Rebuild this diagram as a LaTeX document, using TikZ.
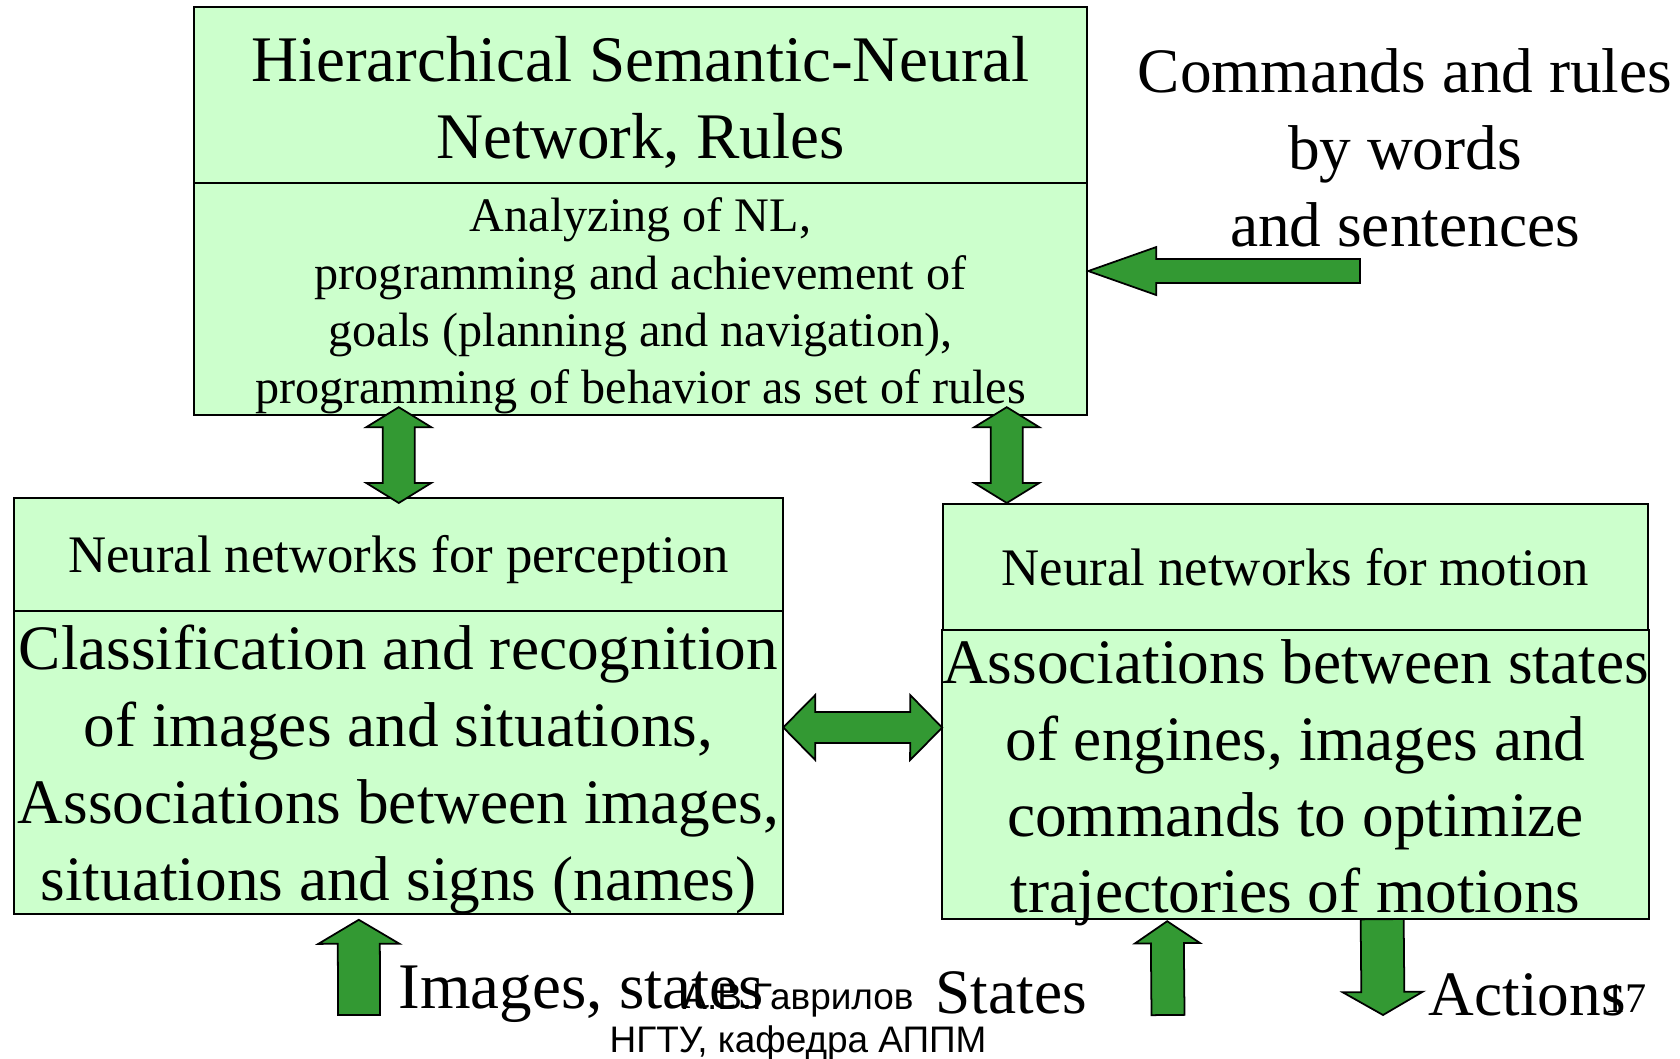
\documentclass[tikz,border=0pt]{standalone}
\usepackage{fontspec}
\setmainfont{Liberation Serif}
\newfontfamily\footfont{Liberation Sans}
\usetikzlibrary{calc,positioning}
\definecolor{boxgreen}{HTML}{CCFFCC}
\definecolor{arrowgreen}{HTML}{339933}
\tikzset{
    block/.style={draw, fill=boxgreen, line width=0.6pt, inner sep=0pt, outer sep=0pt, align=center},
    blockhead/.style={block, font=\fontsize{15}{18}\selectfont},
    blockbody/.style={block, font=\fontsize{18}{21.9}\selectfont},
    fat/.style={draw, fill=arrowgreen, line width=0.5pt, line join=miter},
    sidetext/.style={inner sep=0pt, align=center, font=\fontsize{18}{21.9}\selectfont}
}
% taller first line, so that the text sits lower in its box
\newcommand{\lift}[1]{\rule{0pt}{#1}}
% fat arrow from #1 to #2: shaft half width #3, head half width #4, head length #5
\newcommand{\fatarrow}[5]{%
    \coordinate (fa-n) at ($(#2)!#5!(#1)$);
    \filldraw[fat] ($(#1)!#3!90:(#2)$) -- ($(fa-n)!#3!90:(#2)$) -- ($(fa-n)!#4!90:(#2)$) -- (#2)
        -- ($(fa-n)!#4!-90:(#2)$) -- ($(fa-n)!#3!-90:(#2)$) -- ($(#1)!#3!-90:(#2)$) -- cycle;}
% same, with a head at both ends
\newcommand{\fatdarrow}[5]{%
    \coordinate (fa-m) at ($(#1)!#5!(#2)$);
    \coordinate (fa-n) at ($(#2)!#5!(#1)$);
    \filldraw[fat] (#1) -- ($(fa-m)!#4!90:(#2)$) -- ($(fa-m)!#3!90:(#2)$) -- ($(fa-n)!#3!90:(#2)$)
        -- ($(fa-n)!#4!90:(#2)$) -- (#2) -- ($(fa-n)!#4!-90:(#2)$) -- ($(fa-n)!#3!-90:(#2)$)
        -- ($(fa-m)!#3!-90:(#2)$) -- ($(fa-m)!#4!-90:(#2)$) -- cycle;}

\begin{document}
\begin{tikzpicture}[x=0.01cm, y=-0.01cm]
\useasboundingbox (0,0) rectangle (1680,1058);

% upper level
\node[blockhead, minimum width=8.93cm, minimum height=1.76cm, font=\fontsize{18.5}{21.9}\selectfont] (hsnn) at (640.5,95) {\lift{16.8pt}Hierarchical Semantic-Neural\\Network, Rules};
\node[block, minimum width=8.93cm, minimum height=2.32cm, below=0pt of hsnn, font=\fontsize{13.7}{16.3}\selectfont] (hsnnbody) {\lift{13.6pt}Analyzing of NL,\\programming and achievement of\\goals (planning and navigation),\\programming of behavior as set of rules};

% lower level
\node[blockhead, minimum width=7.69cm, minimum height=1.13cm] (percept) at (398.5,554.5) {\lift{13.2pt}Neural networks for perception};
\node[blockbody, minimum width=7.69cm, minimum height=3.02cm, below=0pt of percept] (perceptbody) {\lift{16.5pt}Classification and recognition\\of images and situations,\\Associations between images,\\situations and signs (names)};

\node[blockhead, minimum width=7.05cm, minimum height=1.26cm] (motion) at (1295.5,567) {Neural networks for motion};
\node[blockbody, minimum width=7.05cm, minimum height=2.89cm, below=0pt of motion, text depth=0pt, font=\fontsize{18}{21.7}\selectfont] (motionbody) {\lift{13.4pt}Associations between states\\of engines, images and\\commands to optimize\\trajectories of motions};

\node[sidetext] (commands) at (1405,148) {Commands and rules\\by words\\and sentences};

% arrow ends
\coordinate (ltop) at ($(hsnnbody.south west)+(205,-8)$);
\coordinate (lbot) at ($(percept.north west)+(385,5)$);
\coordinate (rtop) at ($(hsnnbody.south west)+(813,-8)$);
\coordinate (rbot) at ($(motion.north west)+(64,-1)$);
\coordinate (mleft) at ($(perceptbody.east)+(0,-35)$);
\coordinate (mright) at ($(motionbody.west)+(0,-47)$);
\coordinate (cmdtip) at ($(hsnnbody.north east)+(1,88)$);
\coordinate (cmdtail) at (1360,271);
\coordinate (imgtip) at ($(perceptbody.south west)+(345,6)$);
\coordinate (imgtail) at (359,1015);
\coordinate (sttip) at ($(motionbody.south west)+(225,2)$);
\coordinate (sttail) at (1168,1015);
\coordinate (acttail) at ($(motionbody.south west)+(440,0)$);
\coordinate (acttip) at (1383,1015);

\fatdarrow{ltop}{lbot}{0.16cm}{0.325cm}{0.2cm}
\fatdarrow{rtop}{rbot}{0.16cm}{0.325cm}{0.2cm}
\fatdarrow{mleft}{mright}{0.155cm}{0.325cm}{0.32cm}
\fatarrow{cmdtail}{cmdtip}{0.12cm}{0.24cm}{0.68cm}
\fatarrow{imgtail}{imgtip}{0.21cm}{0.405cm}{0.24cm}
\fatarrow{sttail}{sttip}{0.165cm}{0.325cm}{0.22cm}
\fatarrow{acttail}{acttip}{0.215cm}{0.4cm}{0.23cm}

% inputs and outputs
\node[sidetext, anchor=base west, font=\fontsize{18.5}{21.9}\selectfont] (images) at (398,1008) {Images, states};
\node[inner sep=0pt, align=center, anchor=north, font=\footfont\fontsize{10.5}{12.2}\selectfont] (author) at (798,983) {А.В.Гаврилов\\НГТУ, кафедра АППМ};
\node[sidetext, anchor=base west] (states) at (935,1013) {States};
\node[sidetext, anchor=base west] (actions) at (1428,1015) {Actions};
\node[sidetext, anchor=base west, font=\fontsize{12}{14}\selectfont] (pagenum) at (1604,1012) {17};
\end{tikzpicture}
\end{document}
